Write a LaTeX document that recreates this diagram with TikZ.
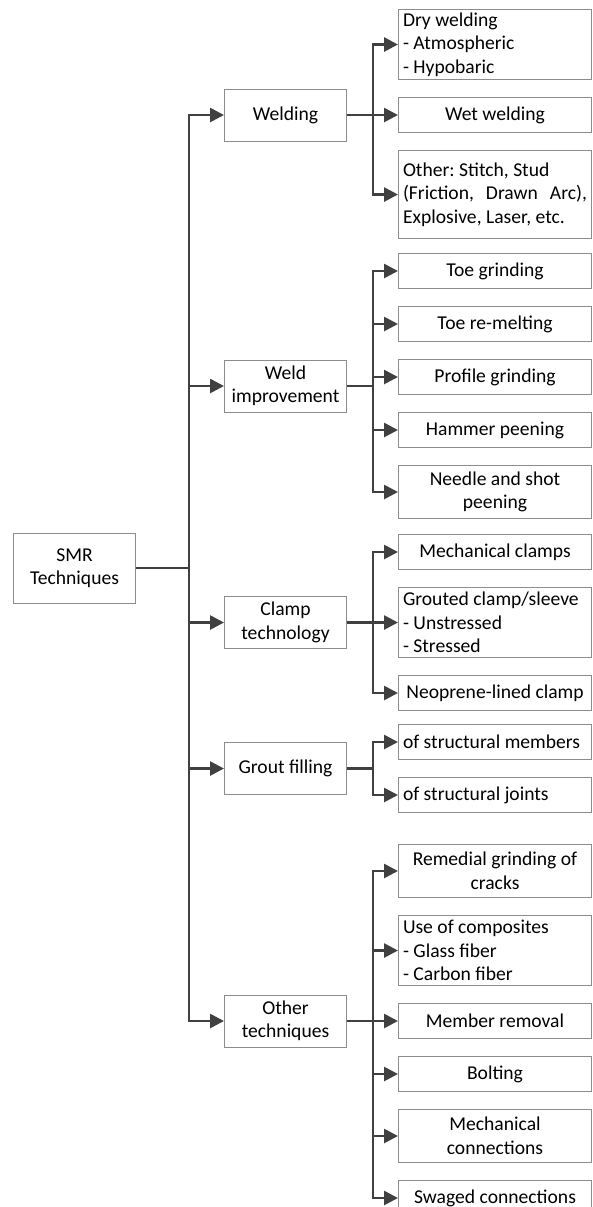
\documentclass[tikz,border=0pt]{standalone}
\usepackage{fontspec}
\setmainfont{Carlito}
\usepackage{tikz}
\usetikzlibrary{positioning}
\usetikzlibrary{calc}
\usetikzlibrary{arrows.meta}
\definecolor{linegray}{HTML}{404040}
\definecolor{boxgray}{HTML}{8C8C8C}
\frenchspacing

\begin{document}
\begin{tikzpicture}[
  node distance=8.5pt and 25.5pt,
  every node/.style={font=\fontsize{9.8}{11.75}\selectfont},
  box/.style={
    draw=boxgray, line width=0.5pt,
    inner xsep=2.25pt, inner ysep=1pt
  },
  root/.style={box, text width=56.5pt, align=flush center, minimum height=35pt},
  topic/.style={box, text width=56.5pt, align=flush center, minimum height=26pt},
  leaf/.style={box, text width=92pt, align=flush center, minimum height=17.5pt},
  twoline/.style={leaf, minimum height=26.5pt},
  list/.style={leaf, align=flush left, minimum height=35pt},
  arrow/.style={-{Triangle[length=7pt, width=7pt]}, line width=1.35pt, draw=linegray}
]
\useasboundingbox (0,0) rectangle (296.5pt,-603.5pt);

% Nodes
\node[list, anchor=north west] (dry) at (199pt,-4.5pt) {Dry welding\\- Atmospheric\\- Hypobaric};
\node[leaf, below=of dry] (wet) {Wet welding};
\node[list, minimum height=44pt, below=of wet] (stud) {Other: Stitch, Stud\\(Friction,\hfill Drawn\hfill Arc),\\Explosive, Laser, etc.};
\node[leaf, anchor=north west] (toe) at (199pt,-126.5pt) {Toe grinding};
\node[leaf, below=of toe] (remelt) {Toe re-melting};
\node[leaf, below=of remelt] (profile) {Profile grinding};
\node[leaf, below=of profile] (hammer) {Hammer peening};
\node[twoline, below=of hammer] (needle) {Needle and shot\\peening};
\node[leaf, anchor=north west] (mclamp) at (199pt,-267pt) {Mechanical clamps};
\node[list, below=of mclamp] (grouted) {Grouted clamp/sleeve\\- Unstressed\\- Stressed};
\node[leaf, below=of grouted] (neo) {Neoprene-lined clamp};
\node[leaf, align=flush left, anchor=north west] (members) at (199pt,-362pt) {of structural members};
\node[leaf, align=flush left, below=of members] (joints) {of structural joints};
\node[twoline, anchor=north west] (remedial) at (199pt,-422pt) {Remedial grinding of\\cracks};
\node[list, below=of remedial] (compos) {Use of composites\\- Glass fiber\\- Carbon fiber};
\node[leaf, below=of compos] (removal) {Member removal};
\node[leaf, below=of removal] (bolt) {Bolting};
\node[twoline, below=of bolt] (mconn) {Mechanical\\connections};
\node[leaf, below=of mconn] (swaged) {Swaged connections};

\node[topic, left=of wet] (weld) {Welding};
\coordinate (wimid) at ($(toe.north west)!0.5!(needle.south west)$);
\node[topic, left=of wimid] (wimp) {Weld\\improvement};
\node[topic, left=of grouted] (clamp) {Clamp\\technology};
\coordinate (grmid) at ($(members.north west)!0.5!(joints.south west)$);
\node[topic, left=of grmid] (grout) {Grout filling};
\node[topic, left=of removal] (other) {Other\\techniques};
\coordinate (smrmid) at ($(weld.west)!0.5!(other.west)$);
\node[root, left=44pt of smrmid] (smr) {SMR\\Techniques};

% Arrows
\foreach \t in {weld,wimp,clamp,grout,other}
  \draw[arrow] (smr.east) -- ++(26.5pt,0) |- (\t.west);
\foreach \c in {dry,wet,stud}
  \draw[arrow] (weld.east) -- ++(13pt,0) |- (\c.west);
\foreach \c in {toe,remelt,profile,hammer,needle}
  \draw[arrow] (wimp.east) -- ++(13pt,0) |- (\c.west);
\foreach \c in {mclamp,grouted,neo}
  \draw[arrow] (clamp.east) -- ++(13pt,0) |- (\c.west);
\foreach \c in {members,joints}
  \draw[arrow] (grout.east) -- ++(13pt,0) |- (\c.west);
\foreach \c in {remedial,compos,removal,bolt,mconn,swaged}
  \draw[arrow] (other.east) -- ++(13pt,0) |- (\c.west);
\end{tikzpicture}
\end{document}
